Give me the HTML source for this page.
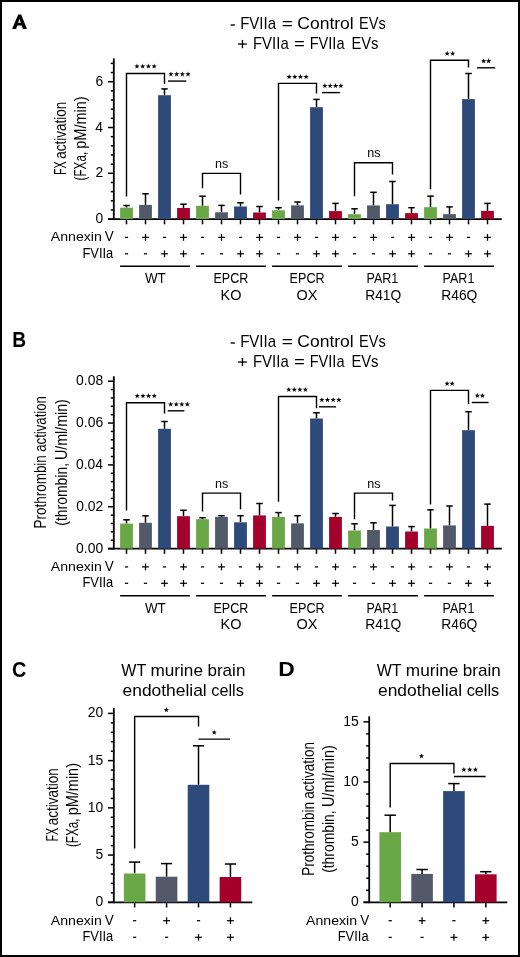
<!DOCTYPE html><html><head><meta charset="utf-8"><style>html,body{margin:0;padding:0;background:#fff}svg{display:block;will-change:transform}text{font-family:"Liberation Sans",sans-serif}</style></head><body>
<svg width="520" height="957" viewBox="0 0 520 957">
<rect x="0" y="0" width="520" height="957" fill="#fff"/>
<path fill-rule="evenodd" fill="#000" d="M12.12,28.92 L18.2,14.5 L21.2,14.5 L26.92,28.92 L22.88,28.92 L21.7,25.46 L17.25,25.46 L16.15,28.92 Z M18.1,22.8 L19.5,18.9 L20.8,22.8 Z"/>
<line x1="230.60" y1="25.00" x2="234.90" y2="25.00" stroke="#000" stroke-width="1.35"/>
<text x="240.17" y="28.80" font-size="17.15" font-weight="normal" textLength="35.83" lengthAdjust="spacingAndGlyphs" fill="#000">FVIIa</text>
<text x="281.78" y="28.80" font-size="17.15" font-weight="normal" textLength="11.06" lengthAdjust="spacingAndGlyphs" fill="#000">=</text>
<text x="297.31" y="28.80" font-size="17.15" font-weight="normal" textLength="56.46" lengthAdjust="spacingAndGlyphs" fill="#000">Control</text>
<text x="359.00" y="28.80" font-size="17.15" font-weight="normal" textLength="26.72" lengthAdjust="spacingAndGlyphs" fill="#000">EVs</text>
<line x1="238.10" y1="44.05" x2="246.80" y2="44.05" stroke="#000" stroke-width="1.35"/>
<line x1="242.45" y1="39.90" x2="242.45" y2="48.20" stroke="#000" stroke-width="1.35"/>
<text x="252.97" y="48.85" font-size="17.15" font-weight="normal" textLength="35.73" lengthAdjust="spacingAndGlyphs" fill="#000">FVIIa</text>
<text x="294.10" y="48.85" font-size="17.15" font-weight="normal" textLength="10.82" lengthAdjust="spacingAndGlyphs" fill="#000">=</text>
<text x="309.71" y="48.85" font-size="17.15" font-weight="normal" textLength="34.79" lengthAdjust="spacingAndGlyphs" fill="#000">FVIIa</text>
<text x="351.39" y="48.85" font-size="17.15" font-weight="normal" textLength="27.15" lengthAdjust="spacingAndGlyphs" fill="#000">EVs</text>
<line x1="113.80" y1="58.40" x2="113.80" y2="220.00" stroke="#000" stroke-width="1.8"/>
<line x1="108.00" y1="219.10" x2="113.80" y2="219.10" stroke="#000" stroke-width="1.5"/>
<line x1="110.80" y1="209.94" x2="113.80" y2="209.94" stroke="#000" stroke-width="1.5"/>
<line x1="110.80" y1="200.78" x2="113.80" y2="200.78" stroke="#000" stroke-width="1.5"/>
<line x1="110.80" y1="191.62" x2="113.80" y2="191.62" stroke="#000" stroke-width="1.5"/>
<line x1="110.80" y1="182.46" x2="113.80" y2="182.46" stroke="#000" stroke-width="1.5"/>
<line x1="108.00" y1="173.30" x2="113.80" y2="173.30" stroke="#000" stroke-width="1.5"/>
<line x1="110.80" y1="164.14" x2="113.80" y2="164.14" stroke="#000" stroke-width="1.5"/>
<line x1="110.80" y1="154.98" x2="113.80" y2="154.98" stroke="#000" stroke-width="1.5"/>
<line x1="110.80" y1="145.82" x2="113.80" y2="145.82" stroke="#000" stroke-width="1.5"/>
<line x1="110.80" y1="136.66" x2="113.80" y2="136.66" stroke="#000" stroke-width="1.5"/>
<line x1="108.00" y1="127.50" x2="113.80" y2="127.50" stroke="#000" stroke-width="1.5"/>
<line x1="110.80" y1="118.34" x2="113.80" y2="118.34" stroke="#000" stroke-width="1.5"/>
<line x1="110.80" y1="109.18" x2="113.80" y2="109.18" stroke="#000" stroke-width="1.5"/>
<line x1="110.80" y1="100.02" x2="113.80" y2="100.02" stroke="#000" stroke-width="1.5"/>
<line x1="110.80" y1="90.86" x2="113.80" y2="90.86" stroke="#000" stroke-width="1.5"/>
<line x1="108.00" y1="81.70" x2="113.80" y2="81.70" stroke="#000" stroke-width="1.5"/>
<line x1="110.80" y1="72.54" x2="113.80" y2="72.54" stroke="#000" stroke-width="1.5"/>
<line x1="110.80" y1="63.38" x2="113.80" y2="63.38" stroke="#000" stroke-width="1.5"/>
<text x="95.40" y="223.19" font-size="14.50" font-weight="normal" textLength="7.74" lengthAdjust="spacingAndGlyphs" fill="#000">0</text>
<text x="95.56" y="177.39" font-size="14.50" font-weight="normal" textLength="7.74" lengthAdjust="spacingAndGlyphs" fill="#000">2</text>
<text x="95.27" y="131.59" font-size="14.50" font-weight="normal" textLength="7.74" lengthAdjust="spacingAndGlyphs" fill="#000">4</text>
<text x="95.47" y="85.79" font-size="14.50" font-weight="normal" textLength="7.74" lengthAdjust="spacingAndGlyphs" fill="#000">6</text>
<line x1="108.00" y1="219.10" x2="501.80" y2="219.10" stroke="#000" stroke-width="1.8"/>
<line x1="126.50" y1="219.10" x2="126.50" y2="224.30" stroke="#000" stroke-width="1.5"/>
<line x1="145.50" y1="219.10" x2="145.50" y2="224.30" stroke="#000" stroke-width="1.5"/>
<line x1="164.50" y1="219.10" x2="164.50" y2="224.30" stroke="#000" stroke-width="1.5"/>
<line x1="183.50" y1="219.10" x2="183.50" y2="224.30" stroke="#000" stroke-width="1.5"/>
<line x1="202.50" y1="219.10" x2="202.50" y2="224.30" stroke="#000" stroke-width="1.5"/>
<line x1="221.50" y1="219.10" x2="221.50" y2="224.30" stroke="#000" stroke-width="1.5"/>
<line x1="240.50" y1="219.10" x2="240.50" y2="224.30" stroke="#000" stroke-width="1.5"/>
<line x1="259.50" y1="219.10" x2="259.50" y2="224.30" stroke="#000" stroke-width="1.5"/>
<line x1="278.50" y1="219.10" x2="278.50" y2="224.30" stroke="#000" stroke-width="1.5"/>
<line x1="297.50" y1="219.10" x2="297.50" y2="224.30" stroke="#000" stroke-width="1.5"/>
<line x1="316.50" y1="219.10" x2="316.50" y2="224.30" stroke="#000" stroke-width="1.5"/>
<line x1="335.50" y1="219.10" x2="335.50" y2="224.30" stroke="#000" stroke-width="1.5"/>
<line x1="354.50" y1="219.10" x2="354.50" y2="224.30" stroke="#000" stroke-width="1.5"/>
<line x1="373.50" y1="219.10" x2="373.50" y2="224.30" stroke="#000" stroke-width="1.5"/>
<line x1="392.50" y1="219.10" x2="392.50" y2="224.30" stroke="#000" stroke-width="1.5"/>
<line x1="411.50" y1="219.10" x2="411.50" y2="224.30" stroke="#000" stroke-width="1.5"/>
<line x1="430.50" y1="219.10" x2="430.50" y2="224.30" stroke="#000" stroke-width="1.5"/>
<line x1="449.50" y1="219.10" x2="449.50" y2="224.30" stroke="#000" stroke-width="1.5"/>
<line x1="468.50" y1="219.10" x2="468.50" y2="224.30" stroke="#000" stroke-width="1.5"/>
<line x1="487.50" y1="219.10" x2="487.50" y2="224.30" stroke="#000" stroke-width="1.5"/>
<line x1="126.50" y1="207.70" x2="126.50" y2="205.50" stroke="#000" stroke-width="1.5"/>
<line x1="123.25" y1="205.50" x2="129.75" y2="205.50" stroke="#000" stroke-width="1.5"/>
<rect x="120.10" y="207.70" width="12.80" height="11.40" fill="#6aa746"/>
<line x1="145.50" y1="204.90" x2="145.50" y2="193.80" stroke="#000" stroke-width="1.5"/>
<line x1="142.25" y1="193.80" x2="148.75" y2="193.80" stroke="#000" stroke-width="1.5"/>
<rect x="139.10" y="204.90" width="12.80" height="14.20" fill="#525a6a"/>
<line x1="164.50" y1="95.20" x2="164.50" y2="88.90" stroke="#000" stroke-width="1.5"/>
<line x1="161.25" y1="88.90" x2="167.75" y2="88.90" stroke="#000" stroke-width="1.5"/>
<rect x="158.10" y="95.20" width="12.80" height="123.90" fill="#2e4a7a"/>
<line x1="183.50" y1="208.00" x2="183.50" y2="204.20" stroke="#000" stroke-width="1.5"/>
<line x1="180.25" y1="204.20" x2="186.75" y2="204.20" stroke="#000" stroke-width="1.5"/>
<rect x="177.10" y="208.00" width="12.80" height="11.10" fill="#a5002b"/>
<line x1="202.50" y1="205.80" x2="202.50" y2="196.20" stroke="#000" stroke-width="1.5"/>
<line x1="199.25" y1="196.20" x2="205.75" y2="196.20" stroke="#000" stroke-width="1.5"/>
<rect x="196.10" y="205.80" width="12.80" height="13.30" fill="#6aa746"/>
<line x1="221.50" y1="212.30" x2="221.50" y2="205.40" stroke="#000" stroke-width="1.5"/>
<line x1="218.25" y1="205.40" x2="224.75" y2="205.40" stroke="#000" stroke-width="1.5"/>
<rect x="215.10" y="212.30" width="12.80" height="6.80" fill="#525a6a"/>
<line x1="240.50" y1="206.50" x2="240.50" y2="202.80" stroke="#000" stroke-width="1.5"/>
<line x1="237.25" y1="202.80" x2="243.75" y2="202.80" stroke="#000" stroke-width="1.5"/>
<rect x="234.10" y="206.50" width="12.80" height="12.60" fill="#2e4a7a"/>
<line x1="259.50" y1="212.50" x2="259.50" y2="206.50" stroke="#000" stroke-width="1.5"/>
<line x1="256.25" y1="206.50" x2="262.75" y2="206.50" stroke="#000" stroke-width="1.5"/>
<rect x="253.10" y="212.50" width="12.80" height="6.60" fill="#a5002b"/>
<line x1="278.50" y1="210.30" x2="278.50" y2="207.70" stroke="#000" stroke-width="1.5"/>
<line x1="275.25" y1="207.70" x2="281.75" y2="207.70" stroke="#000" stroke-width="1.5"/>
<rect x="272.10" y="210.30" width="12.80" height="8.80" fill="#6aa746"/>
<line x1="297.50" y1="205.40" x2="297.50" y2="202.00" stroke="#000" stroke-width="1.5"/>
<line x1="294.25" y1="202.00" x2="300.75" y2="202.00" stroke="#000" stroke-width="1.5"/>
<rect x="291.10" y="205.40" width="12.80" height="13.70" fill="#525a6a"/>
<line x1="316.50" y1="107.20" x2="316.50" y2="99.40" stroke="#000" stroke-width="1.5"/>
<line x1="313.25" y1="99.40" x2="319.75" y2="99.40" stroke="#000" stroke-width="1.5"/>
<rect x="310.10" y="107.20" width="12.80" height="111.90" fill="#2e4a7a"/>
<line x1="335.50" y1="211.10" x2="335.50" y2="203.40" stroke="#000" stroke-width="1.5"/>
<line x1="332.25" y1="203.40" x2="338.75" y2="203.40" stroke="#000" stroke-width="1.5"/>
<rect x="329.10" y="211.10" width="12.80" height="8.00" fill="#a5002b"/>
<line x1="354.50" y1="214.20" x2="354.50" y2="208.80" stroke="#000" stroke-width="1.5"/>
<line x1="351.25" y1="208.80" x2="357.75" y2="208.80" stroke="#000" stroke-width="1.5"/>
<rect x="348.10" y="214.20" width="12.80" height="4.90" fill="#6aa746"/>
<line x1="373.50" y1="205.40" x2="373.50" y2="192.30" stroke="#000" stroke-width="1.5"/>
<line x1="370.25" y1="192.30" x2="376.75" y2="192.30" stroke="#000" stroke-width="1.5"/>
<rect x="367.10" y="205.40" width="12.80" height="13.70" fill="#525a6a"/>
<line x1="392.50" y1="204.20" x2="392.50" y2="181.50" stroke="#000" stroke-width="1.5"/>
<line x1="389.25" y1="181.50" x2="395.75" y2="181.50" stroke="#000" stroke-width="1.5"/>
<rect x="386.10" y="204.20" width="12.80" height="14.90" fill="#2e4a7a"/>
<line x1="411.50" y1="213.10" x2="411.50" y2="207.70" stroke="#000" stroke-width="1.5"/>
<line x1="408.25" y1="207.70" x2="414.75" y2="207.70" stroke="#000" stroke-width="1.5"/>
<rect x="405.10" y="213.10" width="12.80" height="6.00" fill="#a5002b"/>
<line x1="430.50" y1="207.20" x2="430.50" y2="196.10" stroke="#000" stroke-width="1.5"/>
<line x1="427.25" y1="196.10" x2="433.75" y2="196.10" stroke="#000" stroke-width="1.5"/>
<rect x="424.10" y="207.20" width="12.80" height="11.90" fill="#6aa746"/>
<line x1="449.50" y1="214.10" x2="449.50" y2="206.90" stroke="#000" stroke-width="1.5"/>
<line x1="446.25" y1="206.90" x2="452.75" y2="206.90" stroke="#000" stroke-width="1.5"/>
<rect x="443.10" y="214.10" width="12.80" height="5.00" fill="#525a6a"/>
<line x1="468.50" y1="99.10" x2="468.50" y2="73.50" stroke="#000" stroke-width="1.5"/>
<line x1="465.25" y1="73.50" x2="471.75" y2="73.50" stroke="#000" stroke-width="1.5"/>
<rect x="462.10" y="99.10" width="12.80" height="120.00" fill="#2e4a7a"/>
<line x1="487.50" y1="210.90" x2="487.50" y2="203.40" stroke="#000" stroke-width="1.5"/>
<line x1="484.25" y1="203.40" x2="490.75" y2="203.40" stroke="#000" stroke-width="1.5"/>
<rect x="481.10" y="210.90" width="12.80" height="8.20" fill="#a5002b"/>
<polyline points="126.50,196.50 126.50,73.50 164.50,73.50 164.50,83.80" fill="none" stroke="#000" stroke-width="1.4" stroke-linejoin="miter" stroke-linecap="butt"/>
<polygon points="136.96,63.50 137.62,65.39 139.63,65.43 138.03,66.65 138.61,68.57 136.96,67.42 135.32,68.57 135.90,66.65 134.30,65.43 136.30,65.39" fill="#000"/>
<polygon points="142.69,63.50 143.35,65.39 145.35,65.43 143.75,66.65 144.33,68.57 142.69,67.42 141.04,68.57 141.62,66.65 140.02,65.43 142.03,65.39" fill="#000"/>
<polygon points="148.41,63.50 149.07,65.39 151.08,65.43 149.48,66.65 150.06,68.57 148.41,67.42 146.77,68.57 147.35,66.65 145.75,65.43 147.75,65.39" fill="#000"/>
<polygon points="154.14,63.50 154.80,65.39 156.80,65.43 155.20,66.65 155.78,68.57 154.14,67.42 152.49,68.57 153.07,66.65 151.47,65.43 153.48,65.39" fill="#000"/>
<line x1="168.00" y1="81.10" x2="186.30" y2="81.10" stroke="#000" stroke-width="1.4"/>
<polygon points="170.96,71.40 171.62,73.29 173.63,73.33 172.03,74.55 172.61,76.47 170.96,75.32 169.32,76.47 169.90,74.55 168.30,73.33 170.30,73.29" fill="#000"/>
<polygon points="176.65,71.40 177.31,73.29 179.32,73.33 177.72,74.55 178.30,76.47 176.65,75.32 175.01,76.47 175.59,74.55 173.99,73.33 176.00,73.29" fill="#000"/>
<polygon points="182.35,71.40 183.00,73.29 185.01,73.33 183.41,74.55 183.99,76.47 182.35,75.32 180.70,76.47 181.28,74.55 179.68,73.33 181.69,73.29" fill="#000"/>
<polygon points="188.04,71.40 188.70,73.29 190.70,73.33 189.10,74.55 189.68,76.47 188.04,75.32 186.39,76.47 186.97,74.55 185.37,73.33 187.38,73.29" fill="#000"/>
<polyline points="202.50,188.20 202.50,173.40 240.50,173.40 240.50,194.60" fill="none" stroke="#000" stroke-width="1.4" stroke-linejoin="miter" stroke-linecap="butt"/>
<text x="215.06" y="167.90" font-size="13.60" font-weight="normal" textLength="13.29" lengthAdjust="spacingAndGlyphs" fill="#000">ns</text>
<polyline points="278.50,200.50 278.50,83.40 316.50,83.40 316.50,93.50" fill="none" stroke="#000" stroke-width="1.4" stroke-linejoin="miter" stroke-linecap="butt"/>
<polygon points="289.16,74.00 289.82,75.89 291.83,75.93 290.23,77.15 290.81,79.07 289.16,77.92 287.52,79.07 288.10,77.15 286.50,75.93 288.50,75.89" fill="#000"/>
<polygon points="294.82,74.00 295.48,75.89 297.48,75.93 295.89,77.15 296.47,79.07 294.82,77.92 293.18,79.07 293.76,77.15 292.16,75.93 294.16,75.89" fill="#000"/>
<polygon points="300.48,74.00 301.14,75.89 303.14,75.93 301.54,77.15 302.12,79.07 300.48,77.92 298.83,79.07 299.41,77.15 297.82,75.93 299.82,75.89" fill="#000"/>
<polygon points="306.14,74.00 306.80,75.89 308.80,75.93 307.20,77.15 307.78,79.07 306.14,77.92 304.49,79.07 305.07,77.15 303.47,75.93 305.48,75.89" fill="#000"/>
<line x1="321.90" y1="92.60" x2="340.00" y2="92.60" stroke="#000" stroke-width="1.4"/>
<polygon points="324.86,83.00 325.52,84.89 327.53,84.93 325.93,86.15 326.51,88.07 324.86,86.92 323.22,88.07 323.80,86.15 322.20,84.93 324.20,84.89" fill="#000"/>
<polygon points="330.19,83.00 330.85,84.89 332.85,84.93 331.25,86.15 331.83,88.07 330.19,86.92 328.54,88.07 329.12,86.15 327.52,84.93 329.53,84.89" fill="#000"/>
<polygon points="335.51,83.00 336.17,84.89 338.18,84.93 336.58,86.15 337.16,88.07 335.51,86.92 333.87,88.07 334.45,86.15 332.85,84.93 334.85,84.89" fill="#000"/>
<polygon points="340.84,83.00 341.50,84.89 343.50,84.93 341.90,86.15 342.48,88.07 340.84,86.92 339.19,88.07 339.77,86.15 338.17,84.93 340.18,84.89" fill="#000"/>
<polyline points="354.50,196.20 354.50,162.80 392.50,162.80 392.50,174.60" fill="none" stroke="#000" stroke-width="1.4" stroke-linejoin="miter" stroke-linecap="butt"/>
<text x="367.36" y="157.10" font-size="13.60" font-weight="normal" textLength="13.29" lengthAdjust="spacingAndGlyphs" fill="#000">ns</text>
<polyline points="430.50,189.20 430.50,60.20 468.50,60.20 468.50,67.50" fill="none" stroke="#000" stroke-width="1.4" stroke-linejoin="miter" stroke-linecap="butt"/>
<polygon points="447.16,50.80 447.82,52.69 449.83,52.73 448.23,53.95 448.81,55.87 447.16,54.72 445.52,55.87 446.10,53.95 444.50,52.73 446.50,52.69" fill="#000"/>
<polygon points="452.64,50.80 453.30,52.69 455.30,52.73 453.70,53.95 454.28,55.87 452.64,54.72 450.99,55.87 451.57,53.95 449.97,52.73 451.98,52.69" fill="#000"/>
<line x1="476.90" y1="67.80" x2="495.20" y2="67.80" stroke="#000" stroke-width="1.4"/>
<polygon points="483.66,58.30 484.32,60.19 486.33,60.23 484.73,61.45 485.31,63.37 483.66,62.22 482.02,63.37 482.60,61.45 481.00,60.23 483.00,60.19" fill="#000"/>
<polygon points="488.64,58.30 489.30,60.19 491.30,60.23 489.70,61.45 490.28,63.37 488.64,62.22 486.99,63.37 487.57,61.45 485.97,60.23 487.98,60.19" fill="#000"/>
<text x="50.77" y="241.20" font-size="13.66" font-weight="normal" textLength="51.04" lengthAdjust="spacingAndGlyphs" fill="#000">Annexin</text>
<text x="104.84" y="241.20" font-size="14.10" font-weight="normal" textLength="9.02" lengthAdjust="spacingAndGlyphs" fill="#000">V</text>
<text x="82.44" y="257.60" font-size="13.95" font-weight="normal" textLength="30.86" lengthAdjust="spacingAndGlyphs" fill="#000">FVIIa</text>
<line x1="124.90" y1="237.40" x2="128.10" y2="237.40" stroke="#000" stroke-width="1.25"/>
<line x1="124.90" y1="253.80" x2="128.10" y2="253.80" stroke="#000" stroke-width="1.25"/>
<line x1="142.10" y1="237.40" x2="148.90" y2="237.40" stroke="#000" stroke-width="1.25"/>
<line x1="145.50" y1="234.00" x2="145.50" y2="240.80" stroke="#000" stroke-width="1.25"/>
<line x1="143.90" y1="253.80" x2="147.10" y2="253.80" stroke="#000" stroke-width="1.25"/>
<line x1="162.90" y1="237.40" x2="166.10" y2="237.40" stroke="#000" stroke-width="1.25"/>
<line x1="161.10" y1="253.80" x2="167.90" y2="253.80" stroke="#000" stroke-width="1.25"/>
<line x1="164.50" y1="250.40" x2="164.50" y2="257.20" stroke="#000" stroke-width="1.25"/>
<line x1="180.10" y1="237.40" x2="186.90" y2="237.40" stroke="#000" stroke-width="1.25"/>
<line x1="183.50" y1="234.00" x2="183.50" y2="240.80" stroke="#000" stroke-width="1.25"/>
<line x1="180.10" y1="253.80" x2="186.90" y2="253.80" stroke="#000" stroke-width="1.25"/>
<line x1="183.50" y1="250.40" x2="183.50" y2="257.20" stroke="#000" stroke-width="1.25"/>
<line x1="200.90" y1="237.40" x2="204.10" y2="237.40" stroke="#000" stroke-width="1.25"/>
<line x1="200.90" y1="253.80" x2="204.10" y2="253.80" stroke="#000" stroke-width="1.25"/>
<line x1="218.10" y1="237.40" x2="224.90" y2="237.40" stroke="#000" stroke-width="1.25"/>
<line x1="221.50" y1="234.00" x2="221.50" y2="240.80" stroke="#000" stroke-width="1.25"/>
<line x1="219.90" y1="253.80" x2="223.10" y2="253.80" stroke="#000" stroke-width="1.25"/>
<line x1="238.90" y1="237.40" x2="242.10" y2="237.40" stroke="#000" stroke-width="1.25"/>
<line x1="237.10" y1="253.80" x2="243.90" y2="253.80" stroke="#000" stroke-width="1.25"/>
<line x1="240.50" y1="250.40" x2="240.50" y2="257.20" stroke="#000" stroke-width="1.25"/>
<line x1="256.10" y1="237.40" x2="262.90" y2="237.40" stroke="#000" stroke-width="1.25"/>
<line x1="259.50" y1="234.00" x2="259.50" y2="240.80" stroke="#000" stroke-width="1.25"/>
<line x1="256.10" y1="253.80" x2="262.90" y2="253.80" stroke="#000" stroke-width="1.25"/>
<line x1="259.50" y1="250.40" x2="259.50" y2="257.20" stroke="#000" stroke-width="1.25"/>
<line x1="276.90" y1="237.40" x2="280.10" y2="237.40" stroke="#000" stroke-width="1.25"/>
<line x1="276.90" y1="253.80" x2="280.10" y2="253.80" stroke="#000" stroke-width="1.25"/>
<line x1="294.10" y1="237.40" x2="300.90" y2="237.40" stroke="#000" stroke-width="1.25"/>
<line x1="297.50" y1="234.00" x2="297.50" y2="240.80" stroke="#000" stroke-width="1.25"/>
<line x1="295.90" y1="253.80" x2="299.10" y2="253.80" stroke="#000" stroke-width="1.25"/>
<line x1="314.90" y1="237.40" x2="318.10" y2="237.40" stroke="#000" stroke-width="1.25"/>
<line x1="313.10" y1="253.80" x2="319.90" y2="253.80" stroke="#000" stroke-width="1.25"/>
<line x1="316.50" y1="250.40" x2="316.50" y2="257.20" stroke="#000" stroke-width="1.25"/>
<line x1="332.10" y1="237.40" x2="338.90" y2="237.40" stroke="#000" stroke-width="1.25"/>
<line x1="335.50" y1="234.00" x2="335.50" y2="240.80" stroke="#000" stroke-width="1.25"/>
<line x1="332.10" y1="253.80" x2="338.90" y2="253.80" stroke="#000" stroke-width="1.25"/>
<line x1="335.50" y1="250.40" x2="335.50" y2="257.20" stroke="#000" stroke-width="1.25"/>
<line x1="352.90" y1="237.40" x2="356.10" y2="237.40" stroke="#000" stroke-width="1.25"/>
<line x1="352.90" y1="253.80" x2="356.10" y2="253.80" stroke="#000" stroke-width="1.25"/>
<line x1="370.10" y1="237.40" x2="376.90" y2="237.40" stroke="#000" stroke-width="1.25"/>
<line x1="373.50" y1="234.00" x2="373.50" y2="240.80" stroke="#000" stroke-width="1.25"/>
<line x1="371.90" y1="253.80" x2="375.10" y2="253.80" stroke="#000" stroke-width="1.25"/>
<line x1="390.90" y1="237.40" x2="394.10" y2="237.40" stroke="#000" stroke-width="1.25"/>
<line x1="389.10" y1="253.80" x2="395.90" y2="253.80" stroke="#000" stroke-width="1.25"/>
<line x1="392.50" y1="250.40" x2="392.50" y2="257.20" stroke="#000" stroke-width="1.25"/>
<line x1="408.10" y1="237.40" x2="414.90" y2="237.40" stroke="#000" stroke-width="1.25"/>
<line x1="411.50" y1="234.00" x2="411.50" y2="240.80" stroke="#000" stroke-width="1.25"/>
<line x1="408.10" y1="253.80" x2="414.90" y2="253.80" stroke="#000" stroke-width="1.25"/>
<line x1="411.50" y1="250.40" x2="411.50" y2="257.20" stroke="#000" stroke-width="1.25"/>
<line x1="428.90" y1="237.40" x2="432.10" y2="237.40" stroke="#000" stroke-width="1.25"/>
<line x1="428.90" y1="253.80" x2="432.10" y2="253.80" stroke="#000" stroke-width="1.25"/>
<line x1="446.10" y1="237.40" x2="452.90" y2="237.40" stroke="#000" stroke-width="1.25"/>
<line x1="449.50" y1="234.00" x2="449.50" y2="240.80" stroke="#000" stroke-width="1.25"/>
<line x1="447.90" y1="253.80" x2="451.10" y2="253.80" stroke="#000" stroke-width="1.25"/>
<line x1="466.90" y1="237.40" x2="470.10" y2="237.40" stroke="#000" stroke-width="1.25"/>
<line x1="465.10" y1="253.80" x2="471.90" y2="253.80" stroke="#000" stroke-width="1.25"/>
<line x1="468.50" y1="250.40" x2="468.50" y2="257.20" stroke="#000" stroke-width="1.25"/>
<line x1="484.10" y1="237.40" x2="490.90" y2="237.40" stroke="#000" stroke-width="1.25"/>
<line x1="487.50" y1="234.00" x2="487.50" y2="240.80" stroke="#000" stroke-width="1.25"/>
<line x1="484.10" y1="253.80" x2="490.90" y2="253.80" stroke="#000" stroke-width="1.25"/>
<line x1="487.50" y1="250.40" x2="487.50" y2="257.20" stroke="#000" stroke-width="1.25"/>
<line x1="120.10" y1="266.30" x2="189.90" y2="266.30" stroke="#000" stroke-width="1.4"/>
<line x1="196.10" y1="266.30" x2="265.90" y2="266.30" stroke="#000" stroke-width="1.4"/>
<line x1="272.10" y1="266.30" x2="341.90" y2="266.30" stroke="#000" stroke-width="1.4"/>
<line x1="348.10" y1="266.30" x2="417.90" y2="266.30" stroke="#000" stroke-width="1.4"/>
<line x1="424.10" y1="266.30" x2="493.90" y2="266.30" stroke="#000" stroke-width="1.4"/>
<text x="144.94" y="283.40" font-size="14.24" font-weight="normal" textLength="20.87" lengthAdjust="spacingAndGlyphs" fill="#000">WT</text>
<text x="213.47" y="283.30" font-size="13.95" font-weight="normal" textLength="34.91" lengthAdjust="spacingAndGlyphs" fill="#000">EPCR</text>
<text x="220.61" y="299.70" font-size="14.10" font-weight="normal" textLength="20.88" lengthAdjust="spacingAndGlyphs" fill="#000">KO</text>
<text x="289.56" y="283.30" font-size="13.95" font-weight="normal" textLength="35.12" lengthAdjust="spacingAndGlyphs" fill="#000">EPCR</text>
<text x="296.62" y="299.70" font-size="14.10" font-weight="normal" textLength="20.89" lengthAdjust="spacingAndGlyphs" fill="#000">OX</text>
<text x="366.50" y="283.40" font-size="13.95" font-weight="normal" textLength="31.79" lengthAdjust="spacingAndGlyphs" fill="#000">PAR1</text>
<text x="365.17" y="299.70" font-size="13.81" font-weight="normal" textLength="36.09" lengthAdjust="spacingAndGlyphs" fill="#000">R41Q</text>
<text x="442.60" y="283.40" font-size="13.95" font-weight="normal" textLength="31.79" lengthAdjust="spacingAndGlyphs" fill="#000">PAR1</text>
<text x="441.27" y="299.70" font-size="13.81" font-weight="normal" textLength="36.09" lengthAdjust="spacingAndGlyphs" fill="#000">R46Q</text>
<text transform="translate(66.00,174.98) rotate(-90)" x="0" y="0" font-size="17.01" font-weight="normal" textLength="13.70" lengthAdjust="spacingAndGlyphs" fill="#000">FX</text>
<text transform="translate(66.00,158.67) rotate(-90)" x="0" y="0" font-size="17.01" font-weight="normal" textLength="56.95" lengthAdjust="spacingAndGlyphs" fill="#000">activation</text>
<text transform="translate(85.90,180.42) rotate(-90)" x="0" y="0" font-size="17.01" font-weight="normal" textLength="28.57" lengthAdjust="spacingAndGlyphs" fill="#000">(FXa,</text>
<text transform="translate(85.90,148.73) rotate(-90)" x="0" y="0" font-size="17.01" font-weight="normal" textLength="52.33" lengthAdjust="spacingAndGlyphs" fill="#000">pM/min)</text>
<text x="12.22" y="346.70" font-size="21.22" font-weight="bold" textLength="13.85" lengthAdjust="spacingAndGlyphs" fill="#000">B</text>
<line x1="230.60" y1="343.00" x2="234.90" y2="343.00" stroke="#000" stroke-width="1.35"/>
<text x="240.17" y="346.80" font-size="17.15" font-weight="normal" textLength="35.83" lengthAdjust="spacingAndGlyphs" fill="#000">FVIIa</text>
<text x="281.78" y="346.80" font-size="17.15" font-weight="normal" textLength="11.06" lengthAdjust="spacingAndGlyphs" fill="#000">=</text>
<text x="297.31" y="346.80" font-size="17.15" font-weight="normal" textLength="56.46" lengthAdjust="spacingAndGlyphs" fill="#000">Control</text>
<text x="359.00" y="346.80" font-size="17.15" font-weight="normal" textLength="26.72" lengthAdjust="spacingAndGlyphs" fill="#000">EVs</text>
<line x1="238.10" y1="362.05" x2="246.80" y2="362.05" stroke="#000" stroke-width="1.35"/>
<line x1="242.45" y1="357.90" x2="242.45" y2="366.20" stroke="#000" stroke-width="1.35"/>
<text x="252.97" y="366.85" font-size="17.15" font-weight="normal" textLength="35.73" lengthAdjust="spacingAndGlyphs" fill="#000">FVIIa</text>
<text x="294.10" y="366.85" font-size="17.15" font-weight="normal" textLength="10.82" lengthAdjust="spacingAndGlyphs" fill="#000">=</text>
<text x="309.71" y="366.85" font-size="17.15" font-weight="normal" textLength="34.79" lengthAdjust="spacingAndGlyphs" fill="#000">FVIIa</text>
<text x="351.39" y="366.85" font-size="17.15" font-weight="normal" textLength="27.15" lengthAdjust="spacingAndGlyphs" fill="#000">EVs</text>
<line x1="113.80" y1="376.30" x2="113.80" y2="549.50" stroke="#000" stroke-width="1.8"/>
<line x1="108.00" y1="548.60" x2="113.80" y2="548.60" stroke="#000" stroke-width="1.5"/>
<line x1="110.80" y1="540.23" x2="113.80" y2="540.23" stroke="#000" stroke-width="1.5"/>
<line x1="110.80" y1="531.86" x2="113.80" y2="531.86" stroke="#000" stroke-width="1.5"/>
<line x1="110.80" y1="523.49" x2="113.80" y2="523.49" stroke="#000" stroke-width="1.5"/>
<line x1="110.80" y1="515.12" x2="113.80" y2="515.12" stroke="#000" stroke-width="1.5"/>
<line x1="108.00" y1="506.75" x2="113.80" y2="506.75" stroke="#000" stroke-width="1.5"/>
<line x1="110.80" y1="498.38" x2="113.80" y2="498.38" stroke="#000" stroke-width="1.5"/>
<line x1="110.80" y1="490.01" x2="113.80" y2="490.01" stroke="#000" stroke-width="1.5"/>
<line x1="110.80" y1="481.64" x2="113.80" y2="481.64" stroke="#000" stroke-width="1.5"/>
<line x1="110.80" y1="473.27" x2="113.80" y2="473.27" stroke="#000" stroke-width="1.5"/>
<line x1="108.00" y1="464.90" x2="113.80" y2="464.90" stroke="#000" stroke-width="1.5"/>
<line x1="110.80" y1="456.53" x2="113.80" y2="456.53" stroke="#000" stroke-width="1.5"/>
<line x1="110.80" y1="448.16" x2="113.80" y2="448.16" stroke="#000" stroke-width="1.5"/>
<line x1="110.80" y1="439.79" x2="113.80" y2="439.79" stroke="#000" stroke-width="1.5"/>
<line x1="110.80" y1="431.42" x2="113.80" y2="431.42" stroke="#000" stroke-width="1.5"/>
<line x1="108.00" y1="423.05" x2="113.80" y2="423.05" stroke="#000" stroke-width="1.5"/>
<line x1="110.80" y1="414.68" x2="113.80" y2="414.68" stroke="#000" stroke-width="1.5"/>
<line x1="110.80" y1="406.31" x2="113.80" y2="406.31" stroke="#000" stroke-width="1.5"/>
<line x1="110.80" y1="397.94" x2="113.80" y2="397.94" stroke="#000" stroke-width="1.5"/>
<line x1="110.80" y1="389.57" x2="113.80" y2="389.57" stroke="#000" stroke-width="1.5"/>
<line x1="108.00" y1="381.20" x2="113.80" y2="381.20" stroke="#000" stroke-width="1.5"/>
<text x="76.05" y="552.69" font-size="14.50" font-weight="normal" textLength="27.09" lengthAdjust="spacingAndGlyphs" fill="#000">0.00</text>
<text x="76.21" y="510.84" font-size="14.50" font-weight="normal" textLength="27.09" lengthAdjust="spacingAndGlyphs" fill="#000">0.02</text>
<text x="75.92" y="468.99" font-size="14.50" font-weight="normal" textLength="27.09" lengthAdjust="spacingAndGlyphs" fill="#000">0.04</text>
<text x="76.12" y="427.14" font-size="14.50" font-weight="normal" textLength="27.09" lengthAdjust="spacingAndGlyphs" fill="#000">0.06</text>
<text x="76.11" y="385.29" font-size="14.50" font-weight="normal" textLength="27.09" lengthAdjust="spacingAndGlyphs" fill="#000">0.08</text>
<line x1="108.00" y1="548.60" x2="501.80" y2="548.60" stroke="#000" stroke-width="1.8"/>
<line x1="126.50" y1="548.60" x2="126.50" y2="553.80" stroke="#000" stroke-width="1.5"/>
<line x1="145.50" y1="548.60" x2="145.50" y2="553.80" stroke="#000" stroke-width="1.5"/>
<line x1="164.50" y1="548.60" x2="164.50" y2="553.80" stroke="#000" stroke-width="1.5"/>
<line x1="183.50" y1="548.60" x2="183.50" y2="553.80" stroke="#000" stroke-width="1.5"/>
<line x1="202.50" y1="548.60" x2="202.50" y2="553.80" stroke="#000" stroke-width="1.5"/>
<line x1="221.50" y1="548.60" x2="221.50" y2="553.80" stroke="#000" stroke-width="1.5"/>
<line x1="240.50" y1="548.60" x2="240.50" y2="553.80" stroke="#000" stroke-width="1.5"/>
<line x1="259.50" y1="548.60" x2="259.50" y2="553.80" stroke="#000" stroke-width="1.5"/>
<line x1="278.50" y1="548.60" x2="278.50" y2="553.80" stroke="#000" stroke-width="1.5"/>
<line x1="297.50" y1="548.60" x2="297.50" y2="553.80" stroke="#000" stroke-width="1.5"/>
<line x1="316.50" y1="548.60" x2="316.50" y2="553.80" stroke="#000" stroke-width="1.5"/>
<line x1="335.50" y1="548.60" x2="335.50" y2="553.80" stroke="#000" stroke-width="1.5"/>
<line x1="354.50" y1="548.60" x2="354.50" y2="553.80" stroke="#000" stroke-width="1.5"/>
<line x1="373.50" y1="548.60" x2="373.50" y2="553.80" stroke="#000" stroke-width="1.5"/>
<line x1="392.50" y1="548.60" x2="392.50" y2="553.80" stroke="#000" stroke-width="1.5"/>
<line x1="411.50" y1="548.60" x2="411.50" y2="553.80" stroke="#000" stroke-width="1.5"/>
<line x1="430.50" y1="548.60" x2="430.50" y2="553.80" stroke="#000" stroke-width="1.5"/>
<line x1="449.50" y1="548.60" x2="449.50" y2="553.80" stroke="#000" stroke-width="1.5"/>
<line x1="468.50" y1="548.60" x2="468.50" y2="553.80" stroke="#000" stroke-width="1.5"/>
<line x1="487.50" y1="548.60" x2="487.50" y2="553.80" stroke="#000" stroke-width="1.5"/>
<line x1="126.50" y1="523.60" x2="126.50" y2="519.80" stroke="#000" stroke-width="1.5"/>
<line x1="123.25" y1="519.80" x2="129.75" y2="519.80" stroke="#000" stroke-width="1.5"/>
<rect x="120.10" y="523.60" width="12.80" height="25.00" fill="#6aa746"/>
<line x1="145.50" y1="522.80" x2="145.50" y2="515.80" stroke="#000" stroke-width="1.5"/>
<line x1="142.25" y1="515.80" x2="148.75" y2="515.80" stroke="#000" stroke-width="1.5"/>
<rect x="139.10" y="522.80" width="12.80" height="25.80" fill="#525a6a"/>
<line x1="164.50" y1="428.80" x2="164.50" y2="421.50" stroke="#000" stroke-width="1.5"/>
<line x1="161.25" y1="421.50" x2="167.75" y2="421.50" stroke="#000" stroke-width="1.5"/>
<rect x="158.10" y="428.80" width="12.80" height="119.80" fill="#2e4a7a"/>
<line x1="183.50" y1="516.20" x2="183.50" y2="510.30" stroke="#000" stroke-width="1.5"/>
<line x1="180.25" y1="510.30" x2="186.75" y2="510.30" stroke="#000" stroke-width="1.5"/>
<rect x="177.10" y="516.20" width="12.80" height="32.40" fill="#a5002b"/>
<line x1="202.50" y1="519.20" x2="202.50" y2="517.70" stroke="#000" stroke-width="1.5"/>
<line x1="199.25" y1="517.70" x2="205.75" y2="517.70" stroke="#000" stroke-width="1.5"/>
<rect x="196.10" y="519.20" width="12.80" height="29.40" fill="#6aa746"/>
<line x1="221.50" y1="516.90" x2="221.50" y2="515.70" stroke="#000" stroke-width="1.5"/>
<line x1="218.25" y1="515.70" x2="224.75" y2="515.70" stroke="#000" stroke-width="1.5"/>
<rect x="215.10" y="516.90" width="12.80" height="31.70" fill="#525a6a"/>
<line x1="240.50" y1="522.30" x2="240.50" y2="515.70" stroke="#000" stroke-width="1.5"/>
<line x1="237.25" y1="515.70" x2="243.75" y2="515.70" stroke="#000" stroke-width="1.5"/>
<rect x="234.10" y="522.30" width="12.80" height="26.30" fill="#2e4a7a"/>
<line x1="259.50" y1="515.40" x2="259.50" y2="503.50" stroke="#000" stroke-width="1.5"/>
<line x1="256.25" y1="503.50" x2="262.75" y2="503.50" stroke="#000" stroke-width="1.5"/>
<rect x="253.10" y="515.40" width="12.80" height="33.20" fill="#a5002b"/>
<line x1="278.50" y1="516.90" x2="278.50" y2="512.60" stroke="#000" stroke-width="1.5"/>
<line x1="275.25" y1="512.60" x2="281.75" y2="512.60" stroke="#000" stroke-width="1.5"/>
<rect x="272.10" y="516.90" width="12.80" height="31.70" fill="#6aa746"/>
<line x1="297.50" y1="523.40" x2="297.50" y2="515.70" stroke="#000" stroke-width="1.5"/>
<line x1="294.25" y1="515.70" x2="300.75" y2="515.70" stroke="#000" stroke-width="1.5"/>
<rect x="291.10" y="523.40" width="12.80" height="25.20" fill="#525a6a"/>
<line x1="316.50" y1="418.50" x2="316.50" y2="412.80" stroke="#000" stroke-width="1.5"/>
<line x1="313.25" y1="412.80" x2="319.75" y2="412.80" stroke="#000" stroke-width="1.5"/>
<rect x="310.10" y="418.50" width="12.80" height="130.10" fill="#2e4a7a"/>
<line x1="335.50" y1="516.90" x2="335.50" y2="513.50" stroke="#000" stroke-width="1.5"/>
<line x1="332.25" y1="513.50" x2="338.75" y2="513.50" stroke="#000" stroke-width="1.5"/>
<rect x="329.10" y="516.90" width="12.80" height="31.70" fill="#a5002b"/>
<line x1="354.50" y1="530.50" x2="354.50" y2="523.80" stroke="#000" stroke-width="1.5"/>
<line x1="351.25" y1="523.80" x2="357.75" y2="523.80" stroke="#000" stroke-width="1.5"/>
<rect x="348.10" y="530.50" width="12.80" height="18.10" fill="#6aa746"/>
<line x1="373.50" y1="530.00" x2="373.50" y2="522.80" stroke="#000" stroke-width="1.5"/>
<line x1="370.25" y1="522.80" x2="376.75" y2="522.80" stroke="#000" stroke-width="1.5"/>
<rect x="367.10" y="530.00" width="12.80" height="18.60" fill="#525a6a"/>
<line x1="392.50" y1="526.50" x2="392.50" y2="505.40" stroke="#000" stroke-width="1.5"/>
<line x1="389.25" y1="505.40" x2="395.75" y2="505.40" stroke="#000" stroke-width="1.5"/>
<rect x="386.10" y="526.50" width="12.80" height="22.10" fill="#2e4a7a"/>
<line x1="411.50" y1="531.50" x2="411.50" y2="526.60" stroke="#000" stroke-width="1.5"/>
<line x1="408.25" y1="526.60" x2="414.75" y2="526.60" stroke="#000" stroke-width="1.5"/>
<rect x="405.10" y="531.50" width="12.80" height="17.10" fill="#a5002b"/>
<line x1="430.50" y1="528.50" x2="430.50" y2="509.80" stroke="#000" stroke-width="1.5"/>
<line x1="427.25" y1="509.80" x2="433.75" y2="509.80" stroke="#000" stroke-width="1.5"/>
<rect x="424.10" y="528.50" width="12.80" height="20.10" fill="#6aa746"/>
<line x1="449.50" y1="525.40" x2="449.50" y2="506.00" stroke="#000" stroke-width="1.5"/>
<line x1="446.25" y1="506.00" x2="452.75" y2="506.00" stroke="#000" stroke-width="1.5"/>
<rect x="443.10" y="525.40" width="12.80" height="23.20" fill="#525a6a"/>
<line x1="468.50" y1="430.20" x2="468.50" y2="411.70" stroke="#000" stroke-width="1.5"/>
<line x1="465.25" y1="411.70" x2="471.75" y2="411.70" stroke="#000" stroke-width="1.5"/>
<rect x="462.10" y="430.20" width="12.80" height="118.40" fill="#2e4a7a"/>
<line x1="487.50" y1="525.90" x2="487.50" y2="504.10" stroke="#000" stroke-width="1.5"/>
<line x1="484.25" y1="504.10" x2="490.75" y2="504.10" stroke="#000" stroke-width="1.5"/>
<rect x="481.10" y="525.90" width="12.80" height="22.70" fill="#a5002b"/>
<polyline points="126.50,510.50 126.50,402.80 164.50,402.80 164.50,413.50" fill="none" stroke="#000" stroke-width="1.4" stroke-linejoin="miter" stroke-linecap="butt"/>
<polygon points="137.26,393.20 137.92,395.09 139.93,395.13 138.33,396.35 138.91,398.27 137.26,397.12 135.62,398.27 136.20,396.35 134.60,395.13 136.60,395.09" fill="#000"/>
<polygon points="142.92,393.20 143.58,395.09 145.58,395.13 143.99,396.35 144.57,398.27 142.92,397.12 141.28,398.27 141.86,396.35 140.26,395.13 142.26,395.09" fill="#000"/>
<polygon points="148.58,393.20 149.24,395.09 151.24,395.13 149.64,396.35 150.22,398.27 148.58,397.12 146.93,398.27 147.51,396.35 145.92,395.13 147.92,395.09" fill="#000"/>
<polygon points="154.24,393.20 154.90,395.09 156.90,395.13 155.30,396.35 155.88,398.27 154.24,397.12 152.59,398.27 153.17,396.35 151.57,395.13 153.58,395.09" fill="#000"/>
<line x1="167.70" y1="410.80" x2="184.40" y2="410.80" stroke="#000" stroke-width="1.4"/>
<polygon points="170.66,401.50 171.32,403.39 173.33,403.43 171.73,404.65 172.31,406.57 170.66,405.42 169.02,406.57 169.60,404.65 168.00,403.43 170.00,403.39" fill="#000"/>
<polygon points="176.22,401.50 176.88,403.39 178.88,403.43 177.29,404.65 177.87,406.57 176.22,405.42 174.58,406.57 175.16,404.65 173.56,403.43 175.56,403.39" fill="#000"/>
<polygon points="181.78,401.50 182.44,403.39 184.44,403.43 182.84,404.65 183.42,406.57 181.78,405.42 180.13,406.57 180.71,404.65 179.12,403.43 181.12,403.39" fill="#000"/>
<polygon points="187.34,401.50 188.00,403.39 190.00,403.43 188.40,404.65 188.98,406.57 187.34,405.42 185.69,406.57 186.27,404.65 184.67,403.43 186.68,403.39" fill="#000"/>
<polyline points="202.50,511.50 202.50,493.10 240.50,493.10 240.50,509.20" fill="none" stroke="#000" stroke-width="1.4" stroke-linejoin="miter" stroke-linecap="butt"/>
<text x="215.06" y="487.60" font-size="13.60" font-weight="normal" textLength="13.29" lengthAdjust="spacingAndGlyphs" fill="#000">ns</text>
<polyline points="278.50,501.80 278.50,396.50 316.50,396.50 316.50,408.20" fill="none" stroke="#000" stroke-width="1.4" stroke-linejoin="miter" stroke-linecap="butt"/>
<polygon points="288.76,386.90 289.42,388.79 291.43,388.83 289.83,390.05 290.41,391.97 288.76,390.82 287.12,391.97 287.70,390.05 286.10,388.83 288.10,388.79" fill="#000"/>
<polygon points="294.32,386.90 294.98,388.79 296.98,388.83 295.39,390.05 295.97,391.97 294.32,390.82 292.68,391.97 293.26,390.05 291.66,388.83 293.66,388.79" fill="#000"/>
<polygon points="299.88,386.90 300.54,388.79 302.54,388.83 300.94,390.05 301.52,391.97 299.88,390.82 298.23,391.97 298.81,390.05 297.22,388.83 299.22,388.79" fill="#000"/>
<polygon points="305.44,386.90 306.10,388.79 308.10,388.83 306.50,390.05 307.08,391.97 305.44,390.82 303.79,391.97 304.37,390.05 302.77,388.83 304.78,388.79" fill="#000"/>
<line x1="318.80" y1="406.80" x2="336.10" y2="406.80" stroke="#000" stroke-width="1.4"/>
<polygon points="321.86,397.20 322.52,399.09 324.53,399.13 322.93,400.35 323.51,402.27 321.86,401.12 320.22,402.27 320.80,400.35 319.20,399.13 321.20,399.09" fill="#000"/>
<polygon points="327.52,397.20 328.18,399.09 330.18,399.13 328.59,400.35 329.17,402.27 327.52,401.12 325.88,402.27 326.46,400.35 324.86,399.13 326.86,399.09" fill="#000"/>
<polygon points="333.18,397.20 333.84,399.09 335.84,399.13 334.24,400.35 334.82,402.27 333.18,401.12 331.53,402.27 332.11,400.35 330.52,399.13 332.52,399.09" fill="#000"/>
<polygon points="338.84,397.20 339.50,399.09 341.50,399.13 339.90,400.35 340.48,402.27 338.84,401.12 337.19,402.27 337.77,400.35 336.17,399.13 338.18,399.09" fill="#000"/>
<polyline points="354.50,519.20 354.50,493.10 392.50,493.10 392.50,500.50" fill="none" stroke="#000" stroke-width="1.4" stroke-linejoin="miter" stroke-linecap="butt"/>
<text x="367.36" y="487.60" font-size="13.60" font-weight="normal" textLength="13.29" lengthAdjust="spacingAndGlyphs" fill="#000">ns</text>
<polyline points="430.50,504.60 430.50,390.40 468.50,390.40 468.50,404.20" fill="none" stroke="#000" stroke-width="1.4" stroke-linejoin="miter" stroke-linecap="butt"/>
<polygon points="447.06,380.90 447.72,382.79 449.73,382.83 448.13,384.05 448.71,385.97 447.06,384.82 445.42,385.97 446.00,384.05 444.40,382.83 446.40,382.79" fill="#000"/>
<polygon points="452.14,380.90 452.80,382.79 454.80,382.83 453.20,384.05 453.78,385.97 452.14,384.82 450.49,385.97 451.07,384.05 449.47,382.83 451.48,382.79" fill="#000"/>
<line x1="471.80" y1="402.50" x2="488.60" y2="402.50" stroke="#000" stroke-width="1.4"/>
<polygon points="477.36,392.90 478.02,394.79 480.03,394.83 478.43,396.05 479.01,397.97 477.36,396.82 475.72,397.97 476.30,396.05 474.70,394.83 476.70,394.79" fill="#000"/>
<polygon points="482.44,392.90 483.10,394.79 485.10,394.83 483.50,396.05 484.08,397.97 482.44,396.82 480.79,397.97 481.37,396.05 479.77,394.83 481.78,394.79" fill="#000"/>
<text x="50.77" y="570.70" font-size="13.66" font-weight="normal" textLength="51.04" lengthAdjust="spacingAndGlyphs" fill="#000">Annexin</text>
<text x="104.84" y="570.70" font-size="14.10" font-weight="normal" textLength="9.02" lengthAdjust="spacingAndGlyphs" fill="#000">V</text>
<text x="82.44" y="587.10" font-size="13.95" font-weight="normal" textLength="30.86" lengthAdjust="spacingAndGlyphs" fill="#000">FVIIa</text>
<line x1="124.90" y1="566.90" x2="128.10" y2="566.90" stroke="#000" stroke-width="1.25"/>
<line x1="124.90" y1="583.30" x2="128.10" y2="583.30" stroke="#000" stroke-width="1.25"/>
<line x1="142.10" y1="566.90" x2="148.90" y2="566.90" stroke="#000" stroke-width="1.25"/>
<line x1="145.50" y1="563.50" x2="145.50" y2="570.30" stroke="#000" stroke-width="1.25"/>
<line x1="143.90" y1="583.30" x2="147.10" y2="583.30" stroke="#000" stroke-width="1.25"/>
<line x1="162.90" y1="566.90" x2="166.10" y2="566.90" stroke="#000" stroke-width="1.25"/>
<line x1="161.10" y1="583.30" x2="167.90" y2="583.30" stroke="#000" stroke-width="1.25"/>
<line x1="164.50" y1="579.90" x2="164.50" y2="586.70" stroke="#000" stroke-width="1.25"/>
<line x1="180.10" y1="566.90" x2="186.90" y2="566.90" stroke="#000" stroke-width="1.25"/>
<line x1="183.50" y1="563.50" x2="183.50" y2="570.30" stroke="#000" stroke-width="1.25"/>
<line x1="180.10" y1="583.30" x2="186.90" y2="583.30" stroke="#000" stroke-width="1.25"/>
<line x1="183.50" y1="579.90" x2="183.50" y2="586.70" stroke="#000" stroke-width="1.25"/>
<line x1="200.90" y1="566.90" x2="204.10" y2="566.90" stroke="#000" stroke-width="1.25"/>
<line x1="200.90" y1="583.30" x2="204.10" y2="583.30" stroke="#000" stroke-width="1.25"/>
<line x1="218.10" y1="566.90" x2="224.90" y2="566.90" stroke="#000" stroke-width="1.25"/>
<line x1="221.50" y1="563.50" x2="221.50" y2="570.30" stroke="#000" stroke-width="1.25"/>
<line x1="219.90" y1="583.30" x2="223.10" y2="583.30" stroke="#000" stroke-width="1.25"/>
<line x1="238.90" y1="566.90" x2="242.10" y2="566.90" stroke="#000" stroke-width="1.25"/>
<line x1="237.10" y1="583.30" x2="243.90" y2="583.30" stroke="#000" stroke-width="1.25"/>
<line x1="240.50" y1="579.90" x2="240.50" y2="586.70" stroke="#000" stroke-width="1.25"/>
<line x1="256.10" y1="566.90" x2="262.90" y2="566.90" stroke="#000" stroke-width="1.25"/>
<line x1="259.50" y1="563.50" x2="259.50" y2="570.30" stroke="#000" stroke-width="1.25"/>
<line x1="256.10" y1="583.30" x2="262.90" y2="583.30" stroke="#000" stroke-width="1.25"/>
<line x1="259.50" y1="579.90" x2="259.50" y2="586.70" stroke="#000" stroke-width="1.25"/>
<line x1="276.90" y1="566.90" x2="280.10" y2="566.90" stroke="#000" stroke-width="1.25"/>
<line x1="276.90" y1="583.30" x2="280.10" y2="583.30" stroke="#000" stroke-width="1.25"/>
<line x1="294.10" y1="566.90" x2="300.90" y2="566.90" stroke="#000" stroke-width="1.25"/>
<line x1="297.50" y1="563.50" x2="297.50" y2="570.30" stroke="#000" stroke-width="1.25"/>
<line x1="295.90" y1="583.30" x2="299.10" y2="583.30" stroke="#000" stroke-width="1.25"/>
<line x1="314.90" y1="566.90" x2="318.10" y2="566.90" stroke="#000" stroke-width="1.25"/>
<line x1="313.10" y1="583.30" x2="319.90" y2="583.30" stroke="#000" stroke-width="1.25"/>
<line x1="316.50" y1="579.90" x2="316.50" y2="586.70" stroke="#000" stroke-width="1.25"/>
<line x1="332.10" y1="566.90" x2="338.90" y2="566.90" stroke="#000" stroke-width="1.25"/>
<line x1="335.50" y1="563.50" x2="335.50" y2="570.30" stroke="#000" stroke-width="1.25"/>
<line x1="332.10" y1="583.30" x2="338.90" y2="583.30" stroke="#000" stroke-width="1.25"/>
<line x1="335.50" y1="579.90" x2="335.50" y2="586.70" stroke="#000" stroke-width="1.25"/>
<line x1="352.90" y1="566.90" x2="356.10" y2="566.90" stroke="#000" stroke-width="1.25"/>
<line x1="352.90" y1="583.30" x2="356.10" y2="583.30" stroke="#000" stroke-width="1.25"/>
<line x1="370.10" y1="566.90" x2="376.90" y2="566.90" stroke="#000" stroke-width="1.25"/>
<line x1="373.50" y1="563.50" x2="373.50" y2="570.30" stroke="#000" stroke-width="1.25"/>
<line x1="371.90" y1="583.30" x2="375.10" y2="583.30" stroke="#000" stroke-width="1.25"/>
<line x1="390.90" y1="566.90" x2="394.10" y2="566.90" stroke="#000" stroke-width="1.25"/>
<line x1="389.10" y1="583.30" x2="395.90" y2="583.30" stroke="#000" stroke-width="1.25"/>
<line x1="392.50" y1="579.90" x2="392.50" y2="586.70" stroke="#000" stroke-width="1.25"/>
<line x1="408.10" y1="566.90" x2="414.90" y2="566.90" stroke="#000" stroke-width="1.25"/>
<line x1="411.50" y1="563.50" x2="411.50" y2="570.30" stroke="#000" stroke-width="1.25"/>
<line x1="408.10" y1="583.30" x2="414.90" y2="583.30" stroke="#000" stroke-width="1.25"/>
<line x1="411.50" y1="579.90" x2="411.50" y2="586.70" stroke="#000" stroke-width="1.25"/>
<line x1="428.90" y1="566.90" x2="432.10" y2="566.90" stroke="#000" stroke-width="1.25"/>
<line x1="428.90" y1="583.30" x2="432.10" y2="583.30" stroke="#000" stroke-width="1.25"/>
<line x1="446.10" y1="566.90" x2="452.90" y2="566.90" stroke="#000" stroke-width="1.25"/>
<line x1="449.50" y1="563.50" x2="449.50" y2="570.30" stroke="#000" stroke-width="1.25"/>
<line x1="447.90" y1="583.30" x2="451.10" y2="583.30" stroke="#000" stroke-width="1.25"/>
<line x1="466.90" y1="566.90" x2="470.10" y2="566.90" stroke="#000" stroke-width="1.25"/>
<line x1="465.10" y1="583.30" x2="471.90" y2="583.30" stroke="#000" stroke-width="1.25"/>
<line x1="468.50" y1="579.90" x2="468.50" y2="586.70" stroke="#000" stroke-width="1.25"/>
<line x1="484.10" y1="566.90" x2="490.90" y2="566.90" stroke="#000" stroke-width="1.25"/>
<line x1="487.50" y1="563.50" x2="487.50" y2="570.30" stroke="#000" stroke-width="1.25"/>
<line x1="484.10" y1="583.30" x2="490.90" y2="583.30" stroke="#000" stroke-width="1.25"/>
<line x1="487.50" y1="579.90" x2="487.50" y2="586.70" stroke="#000" stroke-width="1.25"/>
<line x1="120.10" y1="595.80" x2="189.90" y2="595.80" stroke="#000" stroke-width="1.4"/>
<line x1="196.10" y1="595.80" x2="265.90" y2="595.80" stroke="#000" stroke-width="1.4"/>
<line x1="272.10" y1="595.80" x2="341.90" y2="595.80" stroke="#000" stroke-width="1.4"/>
<line x1="348.10" y1="595.80" x2="417.90" y2="595.80" stroke="#000" stroke-width="1.4"/>
<line x1="424.10" y1="595.80" x2="493.90" y2="595.80" stroke="#000" stroke-width="1.4"/>
<text x="144.94" y="612.90" font-size="14.24" font-weight="normal" textLength="20.87" lengthAdjust="spacingAndGlyphs" fill="#000">WT</text>
<text x="213.47" y="612.80" font-size="13.95" font-weight="normal" textLength="34.91" lengthAdjust="spacingAndGlyphs" fill="#000">EPCR</text>
<text x="220.61" y="629.20" font-size="14.10" font-weight="normal" textLength="20.88" lengthAdjust="spacingAndGlyphs" fill="#000">KO</text>
<text x="289.56" y="612.80" font-size="13.95" font-weight="normal" textLength="35.12" lengthAdjust="spacingAndGlyphs" fill="#000">EPCR</text>
<text x="296.62" y="629.20" font-size="14.10" font-weight="normal" textLength="20.89" lengthAdjust="spacingAndGlyphs" fill="#000">OX</text>
<text x="366.50" y="612.90" font-size="13.95" font-weight="normal" textLength="31.79" lengthAdjust="spacingAndGlyphs" fill="#000">PAR1</text>
<text x="365.17" y="629.20" font-size="13.81" font-weight="normal" textLength="36.09" lengthAdjust="spacingAndGlyphs" fill="#000">R41Q</text>
<text x="442.60" y="612.90" font-size="13.95" font-weight="normal" textLength="31.79" lengthAdjust="spacingAndGlyphs" fill="#000">PAR1</text>
<text x="441.27" y="629.20" font-size="13.81" font-weight="normal" textLength="36.09" lengthAdjust="spacingAndGlyphs" fill="#000">R46Q</text>
<text transform="translate(46.40,528.51) rotate(-90)" x="0" y="0" font-size="16.86" font-weight="normal" textLength="73.38" lengthAdjust="spacingAndGlyphs" fill="#000">Prothrombin</text>
<text transform="translate(46.40,451.76) rotate(-90)" x="0" y="0" font-size="16.86" font-weight="normal" textLength="55.72" lengthAdjust="spacingAndGlyphs" fill="#000">activation</text>
<text transform="translate(66.80,525.66) rotate(-90)" x="0" y="0" font-size="16.86" font-weight="normal" textLength="62.72" lengthAdjust="spacingAndGlyphs" fill="#000">(thrombin,</text>
<text transform="translate(66.80,460.10) rotate(-90)" x="0" y="0" font-size="16.86" font-weight="normal" textLength="60.98" lengthAdjust="spacingAndGlyphs" fill="#000">U/ml/min)</text>
<text x="11.98" y="676.50" font-size="21.90" font-weight="bold" textLength="14.36" lengthAdjust="spacingAndGlyphs" fill="#000">C</text>
<text x="121.33" y="676.40" font-size="17.15" font-weight="normal" textLength="24.94" lengthAdjust="spacingAndGlyphs" fill="#000">WT</text>
<text x="150.46" y="676.40" font-size="17.15" font-weight="normal" textLength="52.50" lengthAdjust="spacingAndGlyphs" fill="#000">murine</text>
<text x="207.40" y="676.40" font-size="17.15" font-weight="normal" textLength="38.01" lengthAdjust="spacingAndGlyphs" fill="#000">brain</text>
<text x="122.56" y="696.40" font-size="17.15" font-weight="normal" textLength="84.20" lengthAdjust="spacingAndGlyphs" fill="#000">endothelial</text>
<text x="211.31" y="696.40" font-size="17.15" font-weight="normal" textLength="32.48" lengthAdjust="spacingAndGlyphs" fill="#000">cells</text>
<line x1="113.80" y1="708.10" x2="113.80" y2="903.20" stroke="#000" stroke-width="1.8"/>
<line x1="108.00" y1="902.30" x2="113.80" y2="902.30" stroke="#000" stroke-width="1.5"/>
<line x1="110.80" y1="892.85" x2="113.80" y2="892.85" stroke="#000" stroke-width="1.5"/>
<line x1="110.80" y1="883.41" x2="113.80" y2="883.41" stroke="#000" stroke-width="1.5"/>
<line x1="110.80" y1="873.96" x2="113.80" y2="873.96" stroke="#000" stroke-width="1.5"/>
<line x1="110.80" y1="864.52" x2="113.80" y2="864.52" stroke="#000" stroke-width="1.5"/>
<line x1="108.00" y1="855.07" x2="113.80" y2="855.07" stroke="#000" stroke-width="1.5"/>
<line x1="110.80" y1="845.63" x2="113.80" y2="845.63" stroke="#000" stroke-width="1.5"/>
<line x1="110.80" y1="836.18" x2="113.80" y2="836.18" stroke="#000" stroke-width="1.5"/>
<line x1="110.80" y1="826.74" x2="113.80" y2="826.74" stroke="#000" stroke-width="1.5"/>
<line x1="110.80" y1="817.29" x2="113.80" y2="817.29" stroke="#000" stroke-width="1.5"/>
<line x1="108.00" y1="807.85" x2="113.80" y2="807.85" stroke="#000" stroke-width="1.5"/>
<line x1="110.80" y1="798.40" x2="113.80" y2="798.40" stroke="#000" stroke-width="1.5"/>
<line x1="110.80" y1="788.96" x2="113.80" y2="788.96" stroke="#000" stroke-width="1.5"/>
<line x1="110.80" y1="779.51" x2="113.80" y2="779.51" stroke="#000" stroke-width="1.5"/>
<line x1="110.80" y1="770.07" x2="113.80" y2="770.07" stroke="#000" stroke-width="1.5"/>
<line x1="108.00" y1="760.62" x2="113.80" y2="760.62" stroke="#000" stroke-width="1.5"/>
<line x1="110.80" y1="751.18" x2="113.80" y2="751.18" stroke="#000" stroke-width="1.5"/>
<line x1="110.80" y1="741.73" x2="113.80" y2="741.73" stroke="#000" stroke-width="1.5"/>
<line x1="110.80" y1="732.29" x2="113.80" y2="732.29" stroke="#000" stroke-width="1.5"/>
<line x1="110.80" y1="722.84" x2="113.80" y2="722.84" stroke="#000" stroke-width="1.5"/>
<line x1="108.00" y1="713.40" x2="113.80" y2="713.40" stroke="#000" stroke-width="1.5"/>
<text x="95.40" y="906.39" font-size="14.50" font-weight="normal" textLength="7.74" lengthAdjust="spacingAndGlyphs" fill="#000">0</text>
<text x="95.44" y="859.17" font-size="14.50" font-weight="normal" textLength="7.74" lengthAdjust="spacingAndGlyphs" fill="#000">5</text>
<text x="87.66" y="811.94" font-size="14.50" font-weight="normal" textLength="15.48" lengthAdjust="spacingAndGlyphs" fill="#000">10</text>
<text x="87.70" y="764.72" font-size="14.50" font-weight="normal" textLength="15.48" lengthAdjust="spacingAndGlyphs" fill="#000">15</text>
<text x="87.66" y="717.49" font-size="14.50" font-weight="normal" textLength="15.48" lengthAdjust="spacingAndGlyphs" fill="#000">20</text>
<line x1="108.00" y1="902.30" x2="252.30" y2="902.30" stroke="#000" stroke-width="1.8"/>
<line x1="134.65" y1="902.30" x2="134.65" y2="907.50" stroke="#000" stroke-width="1.5"/>
<line x1="166.58" y1="902.30" x2="166.58" y2="907.50" stroke="#000" stroke-width="1.5"/>
<line x1="198.51" y1="902.30" x2="198.51" y2="907.50" stroke="#000" stroke-width="1.5"/>
<line x1="230.44" y1="902.30" x2="230.44" y2="907.50" stroke="#000" stroke-width="1.5"/>
<line x1="134.65" y1="873.50" x2="134.65" y2="862.10" stroke="#000" stroke-width="1.5"/>
<line x1="129.05" y1="862.10" x2="140.25" y2="862.10" stroke="#000" stroke-width="1.5"/>
<rect x="123.85" y="873.50" width="21.60" height="28.80" fill="#6aa746"/>
<line x1="166.58" y1="876.70" x2="166.58" y2="863.60" stroke="#000" stroke-width="1.5"/>
<line x1="160.98" y1="863.60" x2="172.18" y2="863.60" stroke="#000" stroke-width="1.5"/>
<rect x="155.78" y="876.70" width="21.60" height="25.60" fill="#525a6a"/>
<line x1="198.51" y1="784.80" x2="198.51" y2="745.80" stroke="#000" stroke-width="1.5"/>
<line x1="192.91" y1="745.80" x2="204.11" y2="745.80" stroke="#000" stroke-width="1.5"/>
<rect x="187.71" y="784.80" width="21.60" height="117.50" fill="#2e4a7a"/>
<line x1="230.44" y1="877.00" x2="230.44" y2="864.00" stroke="#000" stroke-width="1.5"/>
<line x1="224.84" y1="864.00" x2="236.04" y2="864.00" stroke="#000" stroke-width="1.5"/>
<rect x="219.64" y="877.00" width="21.60" height="25.30" fill="#a5002b"/>
<polyline points="134.65,848.50 134.65,716.50 198.51,716.50 198.51,726.40" fill="none" stroke="#000" stroke-width="1.4" stroke-linejoin="miter" stroke-linecap="butt"/>
<polygon points="166.40,707.10 167.06,708.99 169.06,709.03 167.47,710.25 168.05,712.17 166.40,711.02 164.75,712.17 165.33,710.25 163.74,709.03 165.74,708.99" fill="#000"/>
<line x1="198.51" y1="739.10" x2="230.10" y2="739.10" stroke="#000" stroke-width="1.4"/>
<polygon points="214.20,729.70 214.86,731.59 216.86,731.63 215.27,732.85 215.85,734.77 214.20,733.62 212.55,734.77 213.13,732.85 211.54,731.63 213.54,731.59" fill="#000"/>
<text x="50.77" y="924.70" font-size="13.66" font-weight="normal" textLength="51.04" lengthAdjust="spacingAndGlyphs" fill="#000">Annexin</text>
<text x="104.84" y="924.70" font-size="14.10" font-weight="normal" textLength="9.02" lengthAdjust="spacingAndGlyphs" fill="#000">V</text>
<text x="82.44" y="941.30" font-size="13.95" font-weight="normal" textLength="30.86" lengthAdjust="spacingAndGlyphs" fill="#000">FVIIa</text>
<line x1="133.05" y1="920.70" x2="136.25" y2="920.70" stroke="#000" stroke-width="1.25"/>
<line x1="133.05" y1="937.30" x2="136.25" y2="937.30" stroke="#000" stroke-width="1.25"/>
<line x1="163.18" y1="920.70" x2="169.98" y2="920.70" stroke="#000" stroke-width="1.25"/>
<line x1="166.58" y1="917.30" x2="166.58" y2="924.10" stroke="#000" stroke-width="1.25"/>
<line x1="164.98" y1="937.30" x2="168.18" y2="937.30" stroke="#000" stroke-width="1.25"/>
<line x1="196.91" y1="920.70" x2="200.11" y2="920.70" stroke="#000" stroke-width="1.25"/>
<line x1="195.11" y1="937.30" x2="201.91" y2="937.30" stroke="#000" stroke-width="1.25"/>
<line x1="198.51" y1="933.90" x2="198.51" y2="940.70" stroke="#000" stroke-width="1.25"/>
<line x1="227.04" y1="920.70" x2="233.84" y2="920.70" stroke="#000" stroke-width="1.25"/>
<line x1="230.44" y1="917.30" x2="230.44" y2="924.10" stroke="#000" stroke-width="1.25"/>
<line x1="227.04" y1="937.30" x2="233.84" y2="937.30" stroke="#000" stroke-width="1.25"/>
<line x1="230.44" y1="933.90" x2="230.44" y2="940.70" stroke="#000" stroke-width="1.25"/>
<text transform="translate(58.00,841.58) rotate(-90)" x="0" y="0" font-size="17.01" font-weight="normal" textLength="13.70" lengthAdjust="spacingAndGlyphs" fill="#000">FX</text>
<text transform="translate(58.00,825.27) rotate(-90)" x="0" y="0" font-size="17.01" font-weight="normal" textLength="56.95" lengthAdjust="spacingAndGlyphs" fill="#000">activation</text>
<text transform="translate(77.90,847.02) rotate(-90)" x="0" y="0" font-size="17.01" font-weight="normal" textLength="28.57" lengthAdjust="spacingAndGlyphs" fill="#000">(FXa,</text>
<text transform="translate(77.90,815.33) rotate(-90)" x="0" y="0" font-size="17.01" font-weight="normal" textLength="52.33" lengthAdjust="spacingAndGlyphs" fill="#000">pM/min)</text>
<text x="278.37" y="676.00" font-size="20.79" font-weight="bold" textLength="16.49" lengthAdjust="spacingAndGlyphs" fill="#000">D</text>
<text x="376.73" y="676.40" font-size="17.15" font-weight="normal" textLength="24.94" lengthAdjust="spacingAndGlyphs" fill="#000">WT</text>
<text x="405.86" y="676.40" font-size="17.15" font-weight="normal" textLength="52.50" lengthAdjust="spacingAndGlyphs" fill="#000">murine</text>
<text x="462.80" y="676.40" font-size="17.15" font-weight="normal" textLength="38.01" lengthAdjust="spacingAndGlyphs" fill="#000">brain</text>
<text x="377.96" y="696.40" font-size="17.15" font-weight="normal" textLength="84.20" lengthAdjust="spacingAndGlyphs" fill="#000">endothelial</text>
<text x="466.71" y="696.40" font-size="17.15" font-weight="normal" textLength="32.48" lengthAdjust="spacingAndGlyphs" fill="#000">cells</text>
<line x1="369.20" y1="716.30" x2="369.20" y2="903.20" stroke="#000" stroke-width="1.8"/>
<line x1="363.40" y1="902.30" x2="369.20" y2="902.30" stroke="#000" stroke-width="1.5"/>
<line x1="366.20" y1="890.27" x2="369.20" y2="890.27" stroke="#000" stroke-width="1.5"/>
<line x1="366.20" y1="878.24" x2="369.20" y2="878.24" stroke="#000" stroke-width="1.5"/>
<line x1="366.20" y1="866.21" x2="369.20" y2="866.21" stroke="#000" stroke-width="1.5"/>
<line x1="366.20" y1="854.18" x2="369.20" y2="854.18" stroke="#000" stroke-width="1.5"/>
<line x1="363.40" y1="842.15" x2="369.20" y2="842.15" stroke="#000" stroke-width="1.5"/>
<line x1="366.20" y1="830.12" x2="369.20" y2="830.12" stroke="#000" stroke-width="1.5"/>
<line x1="366.20" y1="818.09" x2="369.20" y2="818.09" stroke="#000" stroke-width="1.5"/>
<line x1="366.20" y1="806.06" x2="369.20" y2="806.06" stroke="#000" stroke-width="1.5"/>
<line x1="366.20" y1="794.03" x2="369.20" y2="794.03" stroke="#000" stroke-width="1.5"/>
<line x1="363.40" y1="782.00" x2="369.20" y2="782.00" stroke="#000" stroke-width="1.5"/>
<line x1="366.20" y1="769.97" x2="369.20" y2="769.97" stroke="#000" stroke-width="1.5"/>
<line x1="366.20" y1="757.94" x2="369.20" y2="757.94" stroke="#000" stroke-width="1.5"/>
<line x1="366.20" y1="745.91" x2="369.20" y2="745.91" stroke="#000" stroke-width="1.5"/>
<line x1="366.20" y1="733.88" x2="369.20" y2="733.88" stroke="#000" stroke-width="1.5"/>
<line x1="363.40" y1="721.85" x2="369.20" y2="721.85" stroke="#000" stroke-width="1.5"/>
<text x="351.00" y="906.39" font-size="14.50" font-weight="normal" textLength="7.74" lengthAdjust="spacingAndGlyphs" fill="#000">0</text>
<text x="351.04" y="846.24" font-size="14.50" font-weight="normal" textLength="7.74" lengthAdjust="spacingAndGlyphs" fill="#000">5</text>
<text x="343.26" y="786.09" font-size="14.50" font-weight="normal" textLength="15.48" lengthAdjust="spacingAndGlyphs" fill="#000">10</text>
<text x="343.30" y="725.94" font-size="14.50" font-weight="normal" textLength="15.48" lengthAdjust="spacingAndGlyphs" fill="#000">15</text>
<line x1="363.60" y1="902.30" x2="507.30" y2="902.30" stroke="#000" stroke-width="1.8"/>
<line x1="390.20" y1="902.30" x2="390.20" y2="907.50" stroke="#000" stroke-width="1.5"/>
<line x1="422.07" y1="902.30" x2="422.07" y2="907.50" stroke="#000" stroke-width="1.5"/>
<line x1="453.94" y1="902.30" x2="453.94" y2="907.50" stroke="#000" stroke-width="1.5"/>
<line x1="485.81" y1="902.30" x2="485.81" y2="907.50" stroke="#000" stroke-width="1.5"/>
<line x1="390.20" y1="832.20" x2="390.20" y2="815.20" stroke="#000" stroke-width="1.5"/>
<line x1="384.50" y1="815.20" x2="395.90" y2="815.20" stroke="#000" stroke-width="1.5"/>
<rect x="379.40" y="832.20" width="21.60" height="70.10" fill="#6aa746"/>
<line x1="422.07" y1="873.90" x2="422.07" y2="869.50" stroke="#000" stroke-width="1.5"/>
<line x1="416.37" y1="869.50" x2="427.77" y2="869.50" stroke="#000" stroke-width="1.5"/>
<rect x="411.27" y="873.90" width="21.60" height="28.40" fill="#525a6a"/>
<line x1="453.94" y1="791.10" x2="453.94" y2="783.60" stroke="#000" stroke-width="1.5"/>
<line x1="448.24" y1="783.60" x2="459.64" y2="783.60" stroke="#000" stroke-width="1.5"/>
<rect x="443.14" y="791.10" width="21.60" height="111.20" fill="#2e4a7a"/>
<line x1="485.81" y1="874.30" x2="485.81" y2="871.70" stroke="#000" stroke-width="1.5"/>
<line x1="480.11" y1="871.70" x2="491.51" y2="871.70" stroke="#000" stroke-width="1.5"/>
<rect x="475.01" y="874.30" width="21.60" height="28.00" fill="#a5002b"/>
<polyline points="390.20,807.50 390.20,763.50 453.94,763.50 453.94,773.50" fill="none" stroke="#000" stroke-width="1.4" stroke-linejoin="miter" stroke-linecap="butt"/>
<polygon points="421.50,753.40 422.16,755.29 424.16,755.33 422.57,756.55 423.15,758.47 421.50,757.32 419.85,758.47 420.43,756.55 418.84,755.33 420.84,755.29" fill="#000"/>
<line x1="453.94" y1="776.50" x2="485.70" y2="776.50" stroke="#000" stroke-width="1.4"/>
<polygon points="463.86,766.90 464.52,768.79 466.53,768.83 464.93,770.05 465.51,771.97 463.86,770.82 462.22,771.97 462.80,770.05 461.20,768.83 463.20,768.79" fill="#000"/>
<polygon points="469.65,766.90 470.31,768.79 472.31,768.83 470.72,770.05 471.30,771.97 469.65,770.82 468.00,771.97 468.58,770.05 466.99,768.83 468.99,768.79" fill="#000"/>
<polygon points="475.44,766.90 476.10,768.79 478.10,768.83 476.50,770.05 477.08,771.97 475.44,770.82 473.79,771.97 474.37,770.05 472.77,768.83 474.78,768.79" fill="#000"/>
<text x="306.07" y="924.60" font-size="13.66" font-weight="normal" textLength="51.04" lengthAdjust="spacingAndGlyphs" fill="#000">Annexin</text>
<text x="360.14" y="924.60" font-size="14.10" font-weight="normal" textLength="9.02" lengthAdjust="spacingAndGlyphs" fill="#000">V</text>
<text x="337.74" y="941.20" font-size="13.95" font-weight="normal" textLength="30.86" lengthAdjust="spacingAndGlyphs" fill="#000">FVIIa</text>
<line x1="388.60" y1="920.70" x2="391.80" y2="920.70" stroke="#000" stroke-width="1.25"/>
<line x1="388.60" y1="937.40" x2="391.80" y2="937.40" stroke="#000" stroke-width="1.25"/>
<line x1="418.67" y1="920.70" x2="425.47" y2="920.70" stroke="#000" stroke-width="1.25"/>
<line x1="422.07" y1="917.30" x2="422.07" y2="924.10" stroke="#000" stroke-width="1.25"/>
<line x1="420.47" y1="937.40" x2="423.67" y2="937.40" stroke="#000" stroke-width="1.25"/>
<line x1="452.34" y1="920.70" x2="455.54" y2="920.70" stroke="#000" stroke-width="1.25"/>
<line x1="450.54" y1="937.40" x2="457.34" y2="937.40" stroke="#000" stroke-width="1.25"/>
<line x1="453.94" y1="934.00" x2="453.94" y2="940.80" stroke="#000" stroke-width="1.25"/>
<line x1="482.41" y1="920.70" x2="489.21" y2="920.70" stroke="#000" stroke-width="1.25"/>
<line x1="485.81" y1="917.30" x2="485.81" y2="924.10" stroke="#000" stroke-width="1.25"/>
<line x1="482.41" y1="937.40" x2="489.21" y2="937.40" stroke="#000" stroke-width="1.25"/>
<line x1="485.81" y1="934.00" x2="485.81" y2="940.80" stroke="#000" stroke-width="1.25"/>
<text transform="translate(313.60,875.71) rotate(-90)" x="0" y="0" font-size="16.57" font-weight="normal" textLength="73.69" lengthAdjust="spacingAndGlyphs" fill="#000">Prothrombin</text>
<text transform="translate(313.60,798.87) rotate(-90)" x="0" y="0" font-size="16.57" font-weight="normal" textLength="56.85" lengthAdjust="spacingAndGlyphs" fill="#000">activation</text>
<text transform="translate(333.50,872.86) rotate(-90)" x="0" y="0" font-size="16.57" font-weight="normal" textLength="62.51" lengthAdjust="spacingAndGlyphs" fill="#000">(thrombin,</text>
<text transform="translate(333.50,807.12) rotate(-90)" x="0" y="0" font-size="16.57" font-weight="normal" textLength="62.02" lengthAdjust="spacingAndGlyphs" fill="#000">U/ml/min)</text>
<rect x="1" y="1" width="518" height="955" fill="none" stroke="#000" stroke-width="2"/>
</svg></body></html>
